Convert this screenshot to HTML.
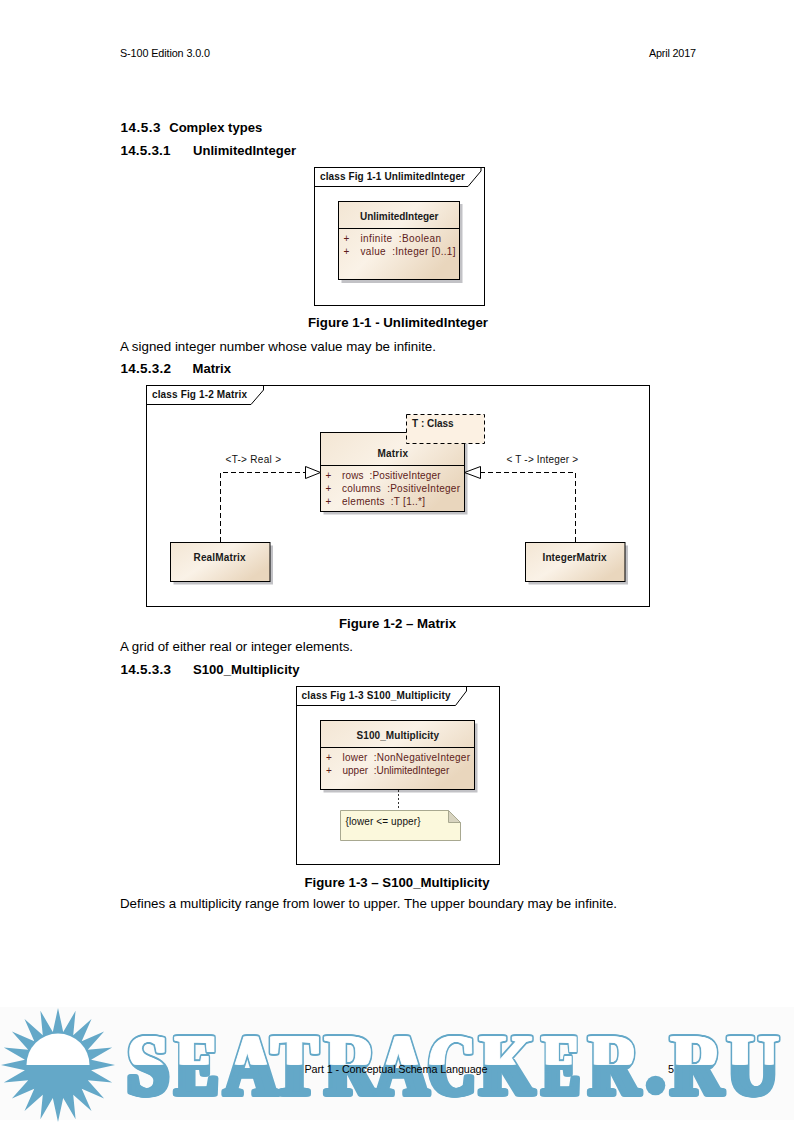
<!DOCTYPE html>
<html><head><meta charset="utf-8">
<style>
html,body{margin:0;padding:0;background:#fff;}
body{width:794px;height:1123px;overflow:hidden;position:relative;}
svg{position:absolute;left:0;top:0;}
text{font-family:"Liberation Sans",sans-serif;white-space:pre;}
.h{font-size:10.8px;fill:#000;}
.hd{font-size:13.5px;font-weight:bold;fill:#000;}
.bd{font-size:13.5px;fill:#000;}
.cap{font-size:13.5px;font-weight:bold;fill:#000;}
.fr{font-size:10px;font-weight:bold;fill:#111;}
.cn{font-size:10px;font-weight:bold;fill:#1a1a1a;}
.at{font-size:10px;fill:#5e1c1a;}
.lb{font-size:10px;fill:#111;}
.wm text{font-family:"Liberation Serif",serif;font-weight:bold;}
</style></head>
<body>
<svg width="794" height="1123" viewBox="0 0 794 1123">
<defs>
  <linearGradient id="cls" x1="0" y1="0" x2="1" y2="0.6">
    <stop offset="0" stop-color="#f3e6d4"/>
    <stop offset="0.5" stop-color="#faf2e7"/>
    <stop offset="1" stop-color="#e9d6bd"/>
  </linearGradient>
  <linearGradient id="wmg" gradientUnits="userSpaceOnUse" x1="0" y1="1025" x2="0" y2="1105">
    <stop offset="0.5" stop-color="#ffffff"/>
    <stop offset="0.5" stop-color="#64a8c8"/>
  </linearGradient>
</defs>

<!-- header -->
<text class="h" x="120" y="57" textLength="90" lengthAdjust="spacing">S-100 Edition 3.0.0</text>
<text class="h" x="649" y="57" textLength="47" lengthAdjust="spacing">April 2017</text>

<!-- headings -->
<text class="hd" x="120.5" y="132" textLength="40" lengthAdjust="spacing">14.5.3</text>
<text class="hd" x="169.2" y="132" textLength="93" lengthAdjust="spacingAndGlyphs">Complex types</text>
<text class="hd" x="120.5" y="155" textLength="50" lengthAdjust="spacing">14.5.3.1</text>
<text class="hd" x="193" y="155" textLength="103" lengthAdjust="spacingAndGlyphs">UnlimitedInteger</text>

<!-- Fig 1-1 -->
<rect x="314.5" y="167.5" width="170" height="138" fill="#fff" stroke="#000" stroke-width="1"/>
<polyline points="314.5,186.5 468,186.5 481,171 481,167.5" fill="none" stroke="#000" stroke-width="1"/>
<text class="fr" x="320" y="180" textLength="145" lengthAdjust="spacing">class Fig 1-1 UnlimitedInteger</text>
<rect x="341.5" y="204" width="121" height="79" fill="#c2c2c6"/>
<rect x="338.5" y="201.5" width="121" height="78" fill="url(#cls)" stroke="#000" stroke-width="1"/>
<line x1="338.5" y1="228.5" x2="459.5" y2="228.5" stroke="#000" stroke-width="1"/>
<text class="cn" x="360" y="220" textLength="78.5" lengthAdjust="spacing">UnlimitedInteger</text>
<text class="at" x="343.5" y="241.5">+</text>
<text class="at" x="360.5" y="241.5" textLength="80.5" lengthAdjust="spacing">infinite  :Boolean</text>
<text class="at" x="343.5" y="255">+</text>
<text class="at" x="360.5" y="255" textLength="95" lengthAdjust="spacing">value  :Integer [0..1]</text>

<text class="cap" x="308" y="326.5" textLength="180" lengthAdjust="spacingAndGlyphs">Figure 1-1 - UnlimitedInteger</text>
<text class="bd" x="120" y="350.5" textLength="316" lengthAdjust="spacingAndGlyphs">A signed integer number whose value may be infinite.</text>

<text class="hd" x="120.5" y="372.5" textLength="50.5" lengthAdjust="spacing">14.5.3.2</text>
<text class="hd" x="192.5" y="372.5" textLength="38.5" lengthAdjust="spacingAndGlyphs">Matrix</text>

<!-- Fig 1-2 -->
<rect x="146.5" y="385.5" width="503" height="221" fill="#fff" stroke="#000" stroke-width="1"/>
<polyline points="146.5,404.5 251,404.5 263.5,390 263.5,385.5" fill="none" stroke="#000" stroke-width="1"/>
<text class="fr" x="152" y="398" textLength="95" lengthAdjust="spacing">class Fig 1-2 Matrix</text>

<!-- Matrix class -->
<rect x="323.5" y="435.5" width="144" height="79" fill="#c2c2c6"/>
<rect x="320.5" y="432.5" width="144" height="79" fill="url(#cls)" stroke="#000" stroke-width="1"/>
<line x1="320.5" y1="465.5" x2="464.5" y2="465.5" stroke="#000" stroke-width="1"/>
<rect x="406.5" y="414.5" width="78" height="29" fill="#fcf1e3" stroke="#000" stroke-width="1" stroke-dasharray="4,3"/>
<text class="cn" x="412" y="427">T : Class</text>
<text class="cn" x="377.5" y="457" textLength="30.5" lengthAdjust="spacing">Matrix</text>
<text class="at" x="325.5" y="478.5">+</text>
<text class="at" x="342" y="478.5" textLength="98.5" lengthAdjust="spacing">rows  :PositiveInteger</text>
<text class="at" x="325.5" y="491.5">+</text>
<text class="at" x="342" y="491.5" textLength="118" lengthAdjust="spacing">columns  :PositiveInteger</text>
<text class="at" x="325.5" y="505">+</text>
<text class="at" x="342" y="505" textLength="83" lengthAdjust="spacing">elements  :T [1..*]</text>

<!-- RealMatrix -->
<rect x="173.5" y="545.5" width="99.5" height="39" fill="#c2c2c6"/>
<rect x="170.5" y="542.5" width="99.5" height="39" fill="url(#cls)" stroke="#000" stroke-width="1"/>
<text class="cn" x="193.5" y="561" textLength="52" lengthAdjust="spacing">RealMatrix</text>
<!-- IntegerMatrix -->
<rect x="528.5" y="545.5" width="99.5" height="39" fill="#c2c2c6"/>
<rect x="525.5" y="542.5" width="99.5" height="39" fill="url(#cls)" stroke="#000" stroke-width="1"/>
<text class="cn" x="542.5" y="561" textLength="64" lengthAdjust="spacing">IntegerMatrix</text>

<!-- realization links -->
<polyline points="220.5,542 220.5,472.5 305.5,472.5" fill="none" stroke="#000" stroke-width="1" stroke-dasharray="5,3"/>
<polygon points="305.5,466.5 320.5,472.5 305.5,478.5" fill="#fff" stroke="#000" stroke-width="1"/>
<polyline points="575.5,542 575.5,472.5 480.5,472.5" fill="none" stroke="#000" stroke-width="1" stroke-dasharray="5,3"/>
<polygon points="480.5,466.5 464.5,472.5 480.5,478.5" fill="#fff" stroke="#000" stroke-width="1"/>
<text class="lb" x="225.5" y="463" textLength="55.5" lengthAdjust="spacing">&lt;T-&gt; Real &gt;</text>
<text class="lb" x="506.5" y="463" textLength="71.5" lengthAdjust="spacing">&lt; T -&gt; Integer &gt;</text>

<text class="cap" x="339" y="628" textLength="117" lengthAdjust="spacingAndGlyphs">Figure 1-2 – Matrix</text>
<text class="bd" x="120" y="651" textLength="233" lengthAdjust="spacingAndGlyphs">A grid of either real or integer elements.</text>

<text class="hd" x="120.5" y="673.5" textLength="50.5" lengthAdjust="spacing">14.5.3.3</text>
<text class="hd" x="193" y="673.5" textLength="106.5" lengthAdjust="spacingAndGlyphs">S100_Multiplicity</text>

<!-- Fig 1-3 -->
<rect x="296.5" y="686.5" width="203" height="178" fill="#fff" stroke="#000" stroke-width="1"/>
<polyline points="296.5,705.5 455.5,705.5 466.5,691 466.5,686.5" fill="none" stroke="#000" stroke-width="1"/>
<text class="fr" x="301.5" y="699" textLength="149" lengthAdjust="spacing">class Fig 1-3 S100_Multiplicity</text>
<rect x="323.5" y="723.5" width="154" height="69" fill="#c2c2c6"/>
<rect x="320.5" y="720.5" width="154" height="69" fill="url(#cls)" stroke="#000" stroke-width="1"/>
<line x1="320.5" y1="747.5" x2="474.5" y2="747.5" stroke="#000" stroke-width="1"/>
<text class="cn" x="356.5" y="739" textLength="82.5" lengthAdjust="spacing">S100_Multiplicity</text>
<text class="at" x="326" y="760.5">+</text>
<text class="at" x="342.5" y="760.5" textLength="127.5" lengthAdjust="spacing">lower  :NonNegativeInteger</text>
<text class="at" x="326" y="773.5">+</text>
<text class="at" x="342.5" y="773.5">upper  :UnlimitedInteger</text>
<line x1="398.5" y1="790" x2="398.5" y2="810" stroke="#333" stroke-width="1" stroke-dasharray="2,2"/>
<polygon points="340.5,810.5 448.5,810.5 460.5,822.5 460.5,840.5 340.5,840.5" fill="#fbf8dc" stroke="#a8a890" stroke-width="1"/>
<polygon points="448.5,810.5 460.5,822.5 448.5,822.5" fill="#d8d4c0" stroke="#a8a890" stroke-width="1"/>
<text class="lb" x="345.5" y="825" textLength="75" lengthAdjust="spacing">{lower &lt;= upper}</text>

<text class="cap" x="304.5" y="886.5" textLength="185" lengthAdjust="spacingAndGlyphs">Figure 1-3 – S100_Multiplicity</text>
<text class="bd" x="120" y="908" textLength="497" lengthAdjust="spacingAndGlyphs">Defines a multiplicity range from lower to upper. The upper boundary may be infinite.</text>

<rect x="0" y="1007" width="794" height="113" fill="#fbfbfb"/>
<!-- watermark sun -->
<polygon fill="#64a8c8" points="58.0,1008.0 63.2,1031.9 75.6,1010.8 73.2,1035.2 91.5,1018.9 81.7,1041.3 104.1,1031.5 87.8,1049.8 112.2,1047.4 91.1,1059.8 115.0,1065.0 91.1,1070.2 112.2,1082.6 87.8,1080.2 104.1,1098.5 81.7,1088.7 91.5,1111.1 73.2,1094.8 75.6,1119.2 63.2,1098.1 58.0,1122.0 52.8,1098.1 40.4,1119.2 42.8,1094.8 24.5,1111.1 34.3,1088.7 11.9,1098.5 28.2,1080.2 3.8,1082.6 24.9,1070.2 1.0,1065.0 24.9,1059.8 3.8,1047.4 28.2,1049.8 11.9,1031.5 34.3,1041.3 24.5,1018.9 42.8,1035.2 40.4,1010.8 52.8,1031.9"/>
<path d="M26.5,1065 A31.5,31.5 0 0 1 89.5,1065 Z" fill="#fff"/>

<!-- watermark text -->
<!-- WM_START -->
<defs><clipPath id="wmtop"><rect x="0" y="0" width="794" height="1064.6"/></clipPath>
<style>.wm text{font-size:87.05px} .wb{fill:#64a8c8;stroke:#64a8c8;stroke-width:5.0px;stroke-linejoin:round} .ww{fill:#fff;stroke:#fff;stroke-width:1.0px;stroke-linejoin:round;clip-path:url(#wmtop)}</style>
<g class="wm"><text id="L0" transform="translate(127.57,1093.50) scale(0.8482,1)">S</text><text id="L1" transform="translate(175.42,1093.50) scale(0.7292,1)">E</text><text id="L2" transform="translate(224.79,1093.50) scale(0.8309,1)">A</text><text id="L3" transform="translate(271.42,1093.50) scale(0.7944,1)">T</text><text id="L4" transform="translate(325.30,1093.50) scale(0.8046,1)">R</text><text id="L5" transform="translate(375.79,1093.50) scale(0.8309,1)">A</text><text id="L6" transform="translate(428.31,1093.50) scale(0.7502,1)">C</text><text id="L7" transform="translate(480.32,1093.50) scale(0.7934,1)">K</text><text id="L8" transform="translate(542.56,1093.50) scale(0.6333,1)">E</text><text id="L9" transform="translate(589.33,1093.50) scale(0.7885,1)">R</text><text id="L10" transform="translate(671.30,1093.50) scale(0.8046,1)">R</text><text id="L11" transform="translate(727.76,1093.50) scale(0.8030,1)">U</text></g></defs>
<g class="wm">
<g class="wb"><use href="#L0" x="-2.00"/><use href="#L0" x="-1.00"/><use href="#L0" x="0.00"/><use href="#L0" x="1.00"/><use href="#L0" x="2.00"/></g><g class="ww"><use href="#L0" x="-2.00"/><use href="#L0" x="-1.00"/><use href="#L0" x="0.00"/><use href="#L0" x="1.00"/><use href="#L0" x="2.00"/></g>
<g class="wb"><use href="#L1" x="-2.00"/><use href="#L1" x="-1.00"/><use href="#L1" x="0.00"/><use href="#L1" x="1.00"/><use href="#L1" x="2.00"/></g><g class="ww"><use href="#L1" x="-2.00"/><use href="#L1" x="-1.00"/><use href="#L1" x="0.00"/><use href="#L1" x="1.00"/><use href="#L1" x="2.00"/></g>
<g class="wb"><use href="#L2" x="-2.00"/><use href="#L2" x="-1.00"/><use href="#L2" x="0.00"/><use href="#L2" x="1.00"/><use href="#L2" x="2.00"/></g><g class="ww"><use href="#L2" x="-2.00"/><use href="#L2" x="-1.00"/><use href="#L2" x="0.00"/><use href="#L2" x="1.00"/><use href="#L2" x="2.00"/></g>
<g class="wb"><use href="#L3" x="-2.00"/><use href="#L3" x="-1.00"/><use href="#L3" x="0.00"/><use href="#L3" x="1.00"/><use href="#L3" x="2.00"/></g><g class="ww"><use href="#L3" x="-2.00"/><use href="#L3" x="-1.00"/><use href="#L3" x="0.00"/><use href="#L3" x="1.00"/><use href="#L3" x="2.00"/></g>
<g class="wb"><use href="#L4" x="-2.00"/><use href="#L4" x="-1.00"/><use href="#L4" x="0.00"/><use href="#L4" x="1.00"/><use href="#L4" x="2.00"/></g><g class="ww"><use href="#L4" x="-2.00"/><use href="#L4" x="-1.00"/><use href="#L4" x="0.00"/><use href="#L4" x="1.00"/><use href="#L4" x="2.00"/></g>
<g class="wb"><use href="#L5" x="-2.00"/><use href="#L5" x="-1.00"/><use href="#L5" x="0.00"/><use href="#L5" x="1.00"/><use href="#L5" x="2.00"/></g><g class="ww"><use href="#L5" x="-2.00"/><use href="#L5" x="-1.00"/><use href="#L5" x="0.00"/><use href="#L5" x="1.00"/><use href="#L5" x="2.00"/></g>
<g class="wb"><use href="#L6" x="-2.00"/><use href="#L6" x="-1.00"/><use href="#L6" x="0.00"/><use href="#L6" x="1.00"/><use href="#L6" x="2.00"/></g><g class="ww"><use href="#L6" x="-2.00"/><use href="#L6" x="-1.00"/><use href="#L6" x="0.00"/><use href="#L6" x="1.00"/><use href="#L6" x="2.00"/></g>
<g class="wb"><use href="#L7" x="-2.00"/><use href="#L7" x="-1.00"/><use href="#L7" x="0.00"/><use href="#L7" x="1.00"/><use href="#L7" x="2.00"/></g><g class="ww"><use href="#L7" x="-2.00"/><use href="#L7" x="-1.00"/><use href="#L7" x="0.00"/><use href="#L7" x="1.00"/><use href="#L7" x="2.00"/></g>
<g class="wb"><use href="#L8" x="-2.00"/><use href="#L8" x="-1.00"/><use href="#L8" x="0.00"/><use href="#L8" x="1.00"/><use href="#L8" x="2.00"/></g><g class="ww"><use href="#L8" x="-2.00"/><use href="#L8" x="-1.00"/><use href="#L8" x="0.00"/><use href="#L8" x="1.00"/><use href="#L8" x="2.00"/></g>
<g class="wb"><use href="#L9" x="-2.00"/><use href="#L9" x="-1.00"/><use href="#L9" x="0.00"/><use href="#L9" x="1.00"/><use href="#L9" x="2.00"/></g><g class="ww"><use href="#L9" x="-2.00"/><use href="#L9" x="-1.00"/><use href="#L9" x="0.00"/><use href="#L9" x="1.00"/><use href="#L9" x="2.00"/></g>
<g class="wb"><use href="#L10" x="-2.00"/><use href="#L10" x="-1.00"/><use href="#L10" x="0.00"/><use href="#L10" x="1.00"/><use href="#L10" x="2.00"/></g><g class="ww"><use href="#L10" x="-2.00"/><use href="#L10" x="-1.00"/><use href="#L10" x="0.00"/><use href="#L10" x="1.00"/><use href="#L10" x="2.00"/></g>
<g class="wb"><use href="#L11" x="-2.00"/><use href="#L11" x="-1.00"/><use href="#L11" x="0.00"/><use href="#L11" x="1.00"/><use href="#L11" x="2.00"/></g><g class="ww"><use href="#L11" x="-2.00"/><use href="#L11" x="-1.00"/><use href="#L11" x="0.00"/><use href="#L11" x="1.00"/><use href="#L11" x="2.00"/></g>
</g>
<circle cx="655.5" cy="1085.5" r="9.8" fill="#64a8c8"/>
<!-- WM_END -->

<!-- footer -->
<text class="h" x="304.5" y="1072.5" textLength="183" lengthAdjust="spacing">Part 1 - Conceptual Schema Language</text>
<text class="h" x="668" y="1072.5">5</text>
</svg>
</body></html>
